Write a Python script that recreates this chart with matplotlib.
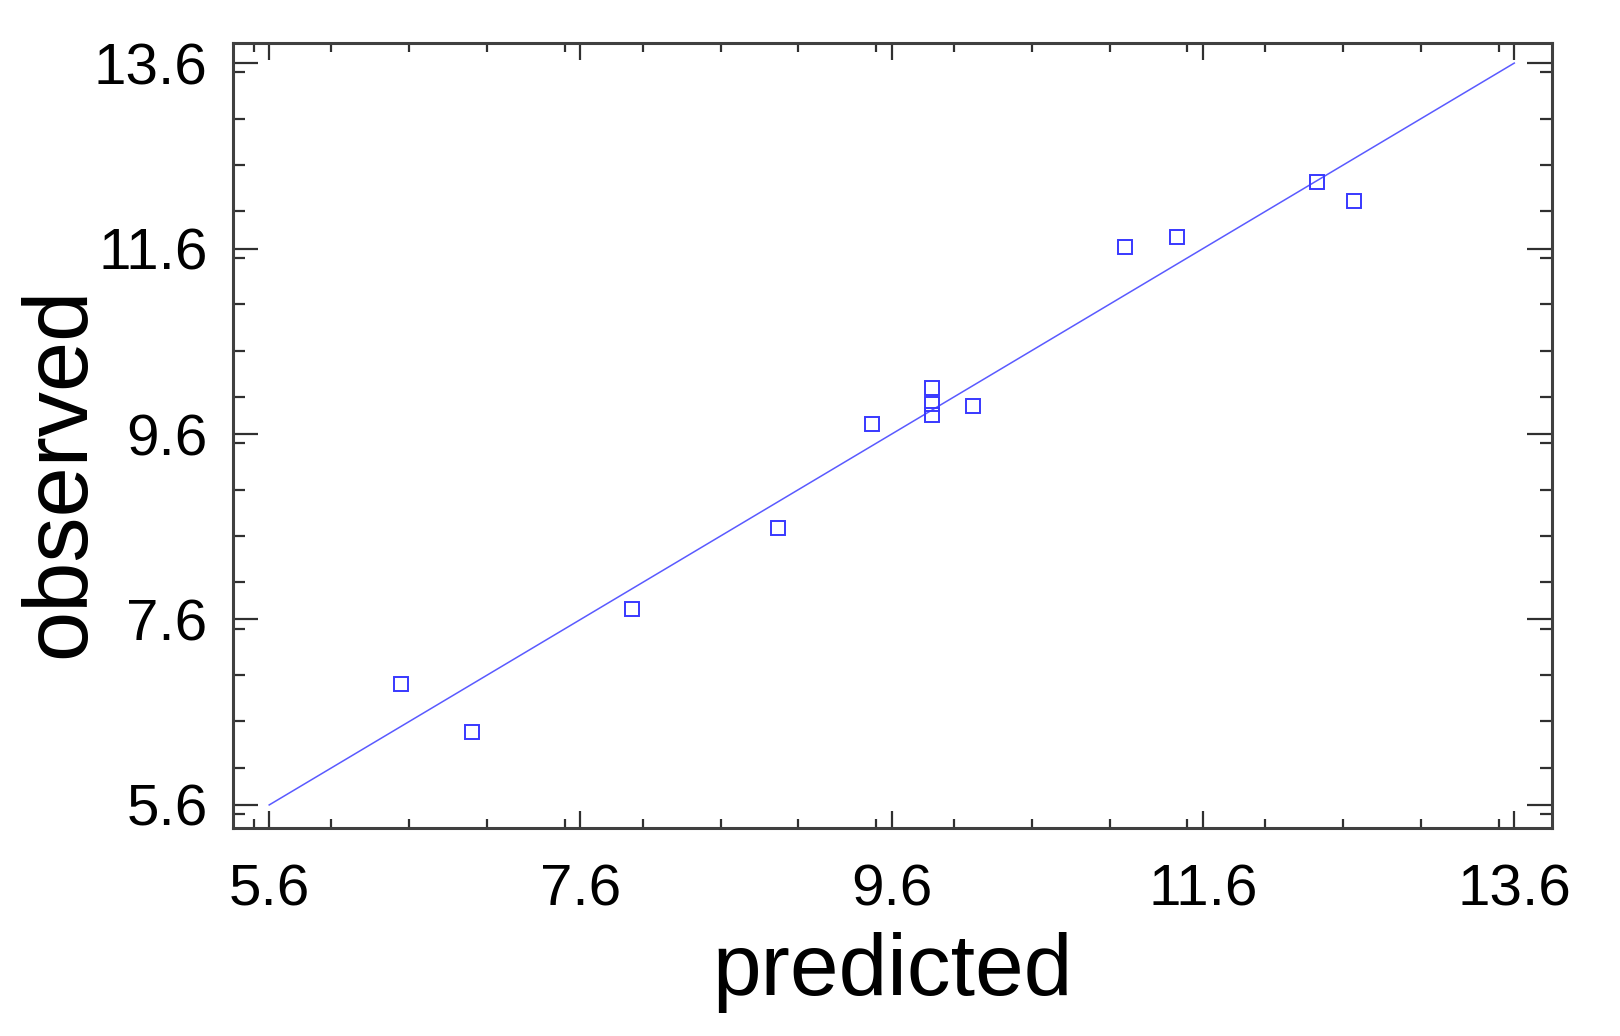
import matplotlib
matplotlib.use('Agg')
import matplotlib.pyplot as plt
import numpy as np
from matplotlib.ticker import MultipleLocator

plt.rcParams['font.family'] = ['Liberation Sans', 'DejaVu Sans']

predicted = [6.45, 6.90, 7.93, 8.87, 9.47, 9.86, 9.86, 9.86, 10.12, 11.10, 11.43, 12.33, 12.57]
observed = [6.90, 6.39, 7.71, 8.59, 9.71, 10.10, 9.92, 9.80, 9.90, 11.62, 11.72, 12.32, 12.11]
fit_x = [5.6, 13.6]
fit_y = [5.6, 13.6]
ticks = [5.6, 7.6, 9.6, 11.6, 13.6]

fig = plt.figure(figsize=(16.2, 10.36), dpi=100)
ax = fig.add_axes([0.1436, 0.2011, 0.8142, 0.7577])

ax.plot(fit_x, fit_y, color='#5a5aff', lw=1.1)
ax.plot(predicted, observed, linestyle='none', marker='s', ms=10,
        mfc='none', mec='#3838ff', mew=1.4)

ax.set_xlim(5.365, 13.84)
ax.set_ylim(5.355, 13.82)
ax.set_xticks(ticks)
ax.set_yticks(ticks)
ax.set_xticklabels(['5.6', '7.6', '9.6', '11.6', '13.6'])
ax.set_yticklabels(['5.6', '7.6', '9.6', '11.6', '13.6'])
ax.xaxis.set_minor_locator(MultipleLocator(0.5))
ax.yaxis.set_minor_locator(MultipleLocator(0.5))

for s in ax.spines.values():
    s.set_linewidth(2.2)
    s.set_color('#404040')

ax.tick_params(which='both', direction='in', top=True, right=True,
               color='#303030', width=1.6, labelsize=42)
ax.tick_params(axis='x', which='major', length=12, pad=26)
ax.tick_params(axis='x', which='minor', length=6.5)
ax.tick_params(axis='y', which='major', length=18, pad=18)
ax.tick_params(axis='y', which='minor', length=8.5)

ax.set_xlabel('predicted', fontsize=63, labelpad=10)
ax.set_ylabel('observed', fontsize=65)
ax.yaxis.set_label_coords(-0.098, 0.4526)

fig.savefig('out.png', dpi=100)
